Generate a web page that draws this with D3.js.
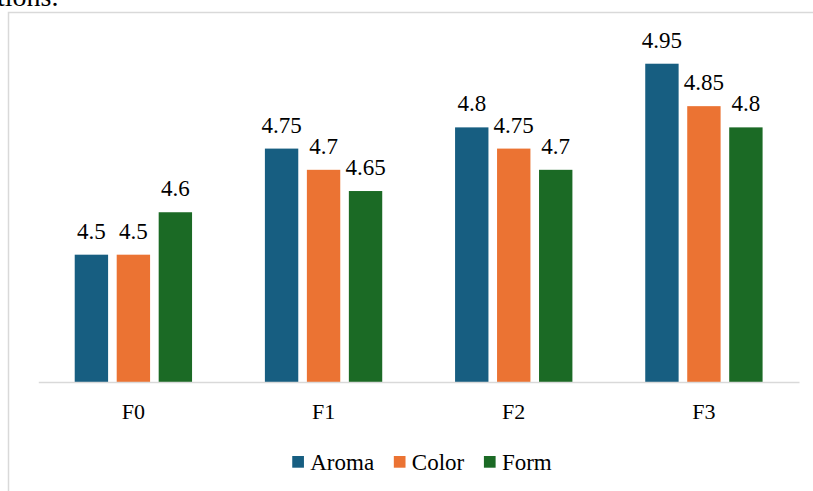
<!DOCTYPE html>
<html>
<head>
<meta charset="utf-8">
<script src="https://cdn.jsdelivr.net/npm/d3@7"></script>
<style>
  html, body { margin: 0; padding: 0; background: #fff; overflow: hidden; }
  svg { display: block; }
</style>
</head>
<body>
<svg id="chart" width="813" height="491"></svg>
<script>
const categories = ["F0", "F1", "F2", "F3"];
const seriesNames = ["Aroma", "Color", "Form"];
const aromaValues = [4.5, 4.75, 4.8, 4.95];
const colorValues = [4.5, 4.7, 4.75, 4.85];
const formValues = [4.6, 4.65, 4.7, 4.8];
const seriesColors = ["#175e81", "#eb7333", "#1b6a25"];
const yDomain = [4.2, 5.0];

const FONT = "'Liberation Serif', 'Times New Roman', serif";
const seriesValues = [aromaValues, colorValues, formValues];
const data = categories.map((c, i) => ({
  cat: c,
  vals: seriesNames.map((s, j) => ({ key: s, value: seriesValues[j][i], color: seriesColors[j] }))
}));

const svg = d3.select("#chart");

// Clipped document text above the chart
svg.append("text")
  .attr("x", -3).attr("y", 6)
  .style("font-family", FONT).style("font-size", "28px")
  .attr("fill", "#000")
  .text("tions.");

// Chart frame (light border)
svg.append("path")
  .attr("d", "M8.5,495 L8.5,12.5 L820,12.5")
  .attr("fill", "none")
  .attr("stroke", "#d9d9d9")
  .attr("stroke-width", 1.5);

const x = d3.scaleBand().domain(categories).range([38.3, 799]).padding(0);
const groupHalf = x.bandwidth() * 0.617 / 2;
const xi = d3.scaleBand().domain(seriesNames).range([-groupHalf, groupHalf]).paddingInner(0.205).paddingOuter(0);
const y = d3.scaleLinear().domain(yDomain).range([382, 42.5]);

const groups = svg.append("g").selectAll("g.cat").data(data).join("g")
  .attr("class", "cat")
  .attr("transform", d => `translate(${x(d.cat) + x.bandwidth() / 2},0)`);

groups.selectAll("rect").data(d => d.vals).join("rect")
  .attr("x", d => xi(d.key))
  .attr("width", xi.bandwidth())
  .attr("y", d => y(d.value))
  .attr("height", d => y(yDomain[0]) - y(d.value))
  .attr("fill", d => d.color);

groups.selectAll("text.lbl").data(d => d.vals).join("text")
  .attr("class", "lbl")
  .attr("x", d => xi(d.key) + xi.bandwidth() / 2)
  .attr("y", d => y(d.value) - 16)
  .attr("text-anchor", "middle")
  .style("font-family", FONT).style("font-size", "23px")
  .attr("fill", "#000")
  .text(d => String(d.value));

// x axis baseline and category labels
const xAxis = d3.axisBottom(x).tickSize(0).tickPadding(0);
const axG = svg.append("g").attr("transform", `translate(0,${y(yDomain[0])})`).call(xAxis);
axG.select(".domain").attr("stroke", "#d9d9d9").attr("stroke-width", 1.5);
axG.selectAll(".tick text")
  .attr("dy", null)
  .attr("y", 37)
  .style("font-family", FONT).style("font-size", "22px")
  .attr("fill", "#000");

// Legend
const legend = svg.append("g");
const sq = 11.7, gapSq = 6.3, gapItem = 19.7, legendY = 470;
let cx = 0;
seriesNames.forEach((s, i) => {
  const it = legend.append("g");
  it.append("rect").attr("x", 0).attr("y", -14).attr("width", sq).attr("height", sq).attr("fill", seriesColors[i]);
  const t = it.append("text").attr("x", sq + gapSq).attr("y", 0)
    .style("font-family", FONT).style("font-size", "23px")
    .attr("fill", "#000").text(s);
  const w = sq + gapSq + t.node().getComputedTextLength();
  it.attr("transform", `translate(${cx},0)`);
  cx += w + gapItem;
});
const totalW = cx - gapItem;
legend.attr("transform", `translate(${422 - totalW / 2},${legendY})`);
</script>
</body>
</html>
